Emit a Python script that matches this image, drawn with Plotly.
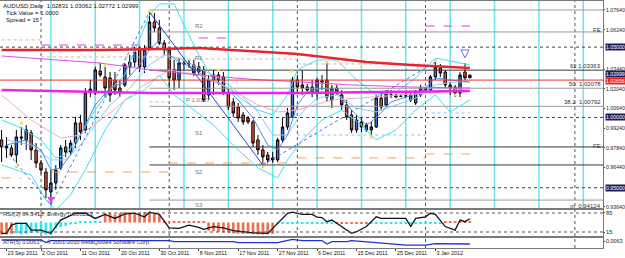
import plotly.graph_objects as go
from plotly.subplots import make_subplots

# ---------------- data (bar 0 = 22 Sep 2011 ... bar 95 = 11 Jan 2012) ----------------
opens = [0.9840, 0.9783, 0.9783, 0.9733, 0.9861, 0.9840, 0.9890, 0.9769, 0.9676, 0.9612,
         0.9470, 0.9534, 0.9641, 0.9790, 0.9754, 0.9818, 0.9961, 0.9911, 1.0181, 1.0174,
         1.0330, 1.0288, 1.0281, 1.0266, 1.0209, 1.0231, 1.0359, 1.0394, 1.0480, 1.0359,
         1.0494, 1.0679, 1.0636, 1.0529, 1.0480, 1.0338, 1.0266, 1.0387, 1.0380, 1.0373,
         1.0323, 1.0338, 1.0160, 1.0266, 1.0302, 1.0288, 1.0174, 1.0110, 1.0074, 1.0018,
         0.9996, 0.9968, 0.9840, 0.9769, 0.9733, 0.9698, 0.9698, 0.9840, 0.9932, 1.0003,
         1.0266, 1.0231, 1.0216, 1.0216, 1.0174, 1.0252, 1.0266, 1.0124, 1.0209, 1.0160,
         1.0089, 1.0018, 0.9911, 0.9968, 0.9911, 0.9911, 0.9932, 1.0138, 1.0089, 1.0160,
         1.0145, 1.0152, 1.0152, 1.0124, 1.0103, 1.0160, 1.0209, 1.0195, 1.0288, 1.0352,
         1.0323, 1.0231, 1.0216, 1.0174, 1.0323, 1.02831]
highs = [0.9911, 0.9860, 0.9804, 0.9911, 0.9932, 0.9946, 0.9911, 0.9818, 0.9698, 0.9641,
         0.9626, 0.9662, 0.9804, 0.9840, 0.9840, 1.0003, 1.0018, 1.0209, 1.0266, 1.0359,
         1.0387, 1.0359, 1.0323, 1.0323, 1.0266, 1.0387, 1.0444, 1.0501, 1.0501, 1.0515,
         1.0750, 1.0743, 1.0693, 1.0551, 1.0494, 1.0409, 1.0423, 1.0423, 1.0409, 1.0409,
         1.0394, 1.0366, 1.0302, 1.0338, 1.0323, 1.0323, 1.0209, 1.0138, 1.0103, 1.0039,
         1.0010, 0.9982, 0.9875, 0.9804, 0.9754, 0.9754, 0.9854, 0.9996, 1.0067, 1.0288,
         1.0302, 1.0338, 1.0238, 1.0266, 1.0281, 1.0302, 1.0387, 1.0231, 1.0231, 1.0195,
         1.0124, 1.0053, 1.0018, 0.9996, 0.9961, 0.9968, 1.0160, 1.0174, 1.0195, 1.0195,
         1.0167, 1.0167, 1.0174, 1.0181, 1.0195, 1.0231, 1.0216, 1.0302, 1.0394, 1.0380,
         1.0338, 1.0252, 1.0231, 1.0323, 1.0387, 1.03062]
lows = [0.9683, 0.9712, 0.9719, 0.9676, 0.9804, 0.9769, 0.9698, 0.9641, 0.9598, 0.9427,
        0.9377, 0.9484, 0.9626, 0.9719, 0.9733, 0.9783, 0.9840, 0.9890, 1.0145, 1.0160,
        1.0288, 1.0145, 1.0110, 1.0160, 1.0145, 1.0216, 1.0302, 1.0359, 1.0323, 1.0316,
        1.0480, 1.0608, 1.0515, 1.0444, 1.0209, 1.0195, 1.0209, 1.0338, 1.0352, 1.0295,
        1.0302, 1.0110, 1.0124, 1.0160, 1.0231, 1.0160, 1.0053, 1.0003, 0.9968, 0.9946,
        0.9954, 0.9790, 0.9733, 0.9662, 0.9676, 0.9676, 0.9683, 0.9818, 0.9911, 0.9996,
        1.0181, 1.0160, 1.0181, 1.0145, 1.0124, 1.0195, 1.0110, 1.0067, 1.0160, 1.0053,
        0.9982, 0.9890, 0.9890, 0.9897, 0.9897, 0.9875, 0.9925, 1.0053, 1.0074, 1.0138,
        1.0138, 1.0145, 1.0138, 1.0110, 1.0089, 1.0145, 1.0188, 1.0181, 1.0266, 1.0288,
        1.0209, 1.0160, 1.0145, 1.0145, 1.0266, 1.02772]
closes = [0.9790, 0.9797, 0.9733, 0.9861, 0.9854, 0.9911, 0.9769, 0.9676, 0.9626, 0.9484,
          0.9534, 0.9626, 0.9783, 0.9754, 0.9818, 0.9961, 0.9897, 1.0181, 1.0202, 1.0338,
          1.0302, 1.0209, 1.0160, 1.0195, 1.0174, 1.0373, 1.0394, 1.0465, 1.0359, 1.0480,
          1.0679, 1.0636, 1.0529, 1.0480, 1.0281, 1.0266, 1.0387, 1.0380, 1.0387, 1.0316,
          1.0359, 1.0124, 1.0266, 1.0302, 1.0266, 1.0174, 1.0074, 1.0032, 0.9996, 0.9968,
          0.9968, 0.9818, 0.9769, 0.9719, 0.9698, 0.9712, 0.9840, 0.9932, 1.0032, 1.0266,
          1.0216, 1.0209, 1.0195, 1.0174, 1.0266, 1.0259, 1.0145, 1.0209, 1.0181, 1.0089,
          1.0003, 0.9911, 0.9982, 0.9932, 0.9946, 0.9932, 1.0138, 1.0074, 1.0174, 1.0158,
          1.0160, 1.0150, 1.0154, 1.0160, 1.0181, 1.0209, 1.0195, 1.0288, 1.0359, 1.0316,
          1.0231, 1.0209, 1.0174, 1.0302, 1.0281, 1.02999]
bars = list(range(len(opens)))

tick_bars = [1, 8, 16, 24, 32, 40, 48, 56, 64, 72, 80, 88]
tick_labels = ["23 Sep 2011", "2 Oct 2011", "11 Oct 2011", "20 Oct 2011", "30 Oct 2011",
               "8 Nov 2011", "17 Nov 2011", "27 Nov 2011", "6 Dec 2011", "15 Dec 2011",
               "25 Dec 2011", "3 Jan 2012"]
# scale labels (1.04840 and 0.95040 are hidden by the dark line labels in the reference)
price_ticks = [1.0764, 1.0624, 1.0344, 1.0204, 1.0064, 0.9924, 0.9784, 0.9644, 0.9364]

# indicator lines (bar, value)
ma_red_bar = [0, 20, 32, 40, 50, 60, 74, 83, 95]
ma_red = [1.0480, 1.0480, 1.0487, 1.0494, 1.0473, 1.0451, 1.0394, 1.0373, 1.0352]
ma_mag_bar = [0, 30, 60, 81, 95]
ma_mag = [1.0195, 1.0174, 1.0174, 1.0181, 1.0188]
ma_mag_thin_bar = [0, 20, 30, 40, 50, 60, 71, 83, 95]
ma_mag_thin = [1.0437, 1.0387, 1.0338, 1.0302, 1.0273, 1.0252, 1.0231, 1.0216, 1.0209]
ma_pink_bar = [0, 6, 12, 16, 22, 28, 34, 40, 46, 52, 56, 60, 67, 73, 81, 89, 95]
ma_pink = [1.0160, 0.9982, 0.9854, 0.9875, 1.0032, 1.0209, 1.0338, 1.0302, 1.0209, 1.0089,
           1.0039, 1.0053, 1.0124, 1.0138, 1.0160, 1.0181, 1.0209]
ma_fast_bar = [1, 5, 8, 10, 12, 14, 16, 19, 22, 25, 28, 30, 32, 34, 36, 39, 42, 45, 48, 51,
               54, 56, 58, 60, 62, 65, 68, 71, 74, 76, 79, 82, 85, 88, 91, 95]
ma_fast = [0.9804, 0.9840, 0.9769, 0.9626, 0.9641, 0.9733, 0.9875, 1.0089, 1.0209, 1.0252,
           1.0373, 1.0480, 1.0551, 1.0444, 1.0394, 1.0352, 1.0266, 1.0231, 1.0124, 0.9996,
           0.9804, 0.9769, 0.9875, 1.0089, 1.0181, 1.0209, 1.0181, 1.0053, 0.9946, 0.9996,
           1.0110, 1.0145, 1.0174, 1.0281, 1.0266, 1.0252]
ma_slow_bar = [1, 6, 10, 13, 16, 19, 22, 26, 30, 33, 36, 40, 44, 48, 52, 55, 58, 61, 64, 68,
               72, 76, 80, 84, 88, 92, 95]
ma_slow = [0.9840, 0.9804, 0.9698, 0.9698, 0.9804, 0.9946, 1.0089, 1.0209, 1.0373, 1.0444,
           1.0423, 1.0352, 1.0281, 1.0181, 1.0039, 0.9875, 0.9875, 1.0039, 1.0138, 1.0160,
           1.0067, 1.0039, 1.0089, 1.0138, 1.0231, 1.0252, 1.0252]
band_up_bar = [0, 4, 8, 11, 13, 16, 19, 22, 25, 28, 30, 32, 35, 37, 40, 43, 46, 49, 52, 55,
               58, 60, 64, 68, 72, 76, 80, 84, 88, 92, 95]
band_up = [0.9982, 0.9925, 0.9840, 0.9712, 0.9733, 0.9875, 1.0053, 1.0195, 1.0302, 1.0551,
           1.0728, 1.0807, 1.0807, 1.0657, 1.0444, 1.0266, 1.0209, 1.0124, 1.0053, 1.0018,
           1.0160, 1.0338, 1.0409, 1.0409, 1.0266, 1.0160, 1.0181, 1.0281, 1.0423, 1.0394, 1.0373]
band_dn_bar = [0, 6, 9, 11, 14, 17, 21, 25, 29, 32, 35, 39, 43, 48, 52, 56, 58, 61, 65, 69,
               73, 76, 80, 84, 88, 91, 95]
band_dn = [0.9662, 0.9591, 0.9413, 0.9342, 0.9449, 0.9627, 0.9911, 1.0124, 1.0195, 1.0302,
           1.0160, 1.0053, 0.9946, 0.9769, 0.9641, 0.9570, 0.9698, 0.9840, 0.9982, 1.0053,
           0.9946, 0.9840, 0.9911, 1.0053, 1.0160, 1.0039, 1.0124]

zig_bar = [0, 10, 30, 53, 88]
zig_val = [0.9804, 0.9377, 1.0750, 0.9662, 1.0394]

fractal_bar = [3, 4, 21, 30, 44, 53, 59, 66, 75, 88, 92]
fractal_val = [0.9650, 0.9961, 1.0373, 1.0757, 1.0338, 0.9648, 1.0330, 1.0394, 0.9861, 1.0409, 1.0160]

cycle_bars = [10, 19, 28, 37, 46, 55, 64, 73, 82, 91, 100, 109, 118]
month_bars = [8, 34, 60, 86, 116.3]
round_levels = [1.05, 1.00, 0.95]
fib_start = 30
fib_levels = [1.0764, 1.0608, 1.03363, 1.02078, 1.00792, 0.9790, 0.9662, 0.94124]
fib_dark = [False, False, True, False, False, True, True, False]
red_line_level = 1.02656
bid = 1.02999

pivot_names = ["R2", "R1", "P 1.0137", "S1", "S2", "S3"]
pivot_vals = [1.0650, 1.0423, 1.0124, 0.9890, 0.9612, 0.9377]

orange_segs = [((0, 4), 0.9570), ((10, 34), 0.9612), ((34, 60), 0.9676), ((60, 86), 0.9712), ((86, 95), 0.9740)]
magenta_segs = [((8, 30), 1.0515), ((40, 46), 1.0565), ((86, 95), 1.0650)]
salmon_segs = [((0, 8), 1.0551), ((8, 34), 1.0430), ((34, 60), 1.0416), ((60, 86), 1.0380)]
lightblue_segs = [((30, 34), 1.0110), ((60, 86), 0.9875), ((86, 95), 1.0032)]

rsi_bar = [0, 1, 2, 3, 5, 6, 8, 10, 12, 15, 17, 19, 21, 23, 25, 27, 29, 30, 32, 34, 36, 38, 40,
           41, 43, 45, 47, 51, 54, 56, 58, 59, 61, 63, 64, 65, 66, 67, 71, 72, 74, 76, 77, 82,
           83, 84, 86, 87, 88, 90, 92, 93, 94, 95]
rsi = [10, 10, 40, 47, 47, 22, 22, 10, 59, 84, 84, 65, 80, 65, 82, 84, 70, 88, 80, 30, 28, 40,
       32, 25, 35, 30, 20, 12, 10, 47, 84, 88, 80, 80, 70, 68, 53, 59, 10, 16, 35, 71, 65, 65,
       35, 65, 71, 84, 80, 35, 22, 59, 53, 64]
N = None
energy_dn = [5, 6, 8, N, N, N, N, N, N, N, N, N, N, N, N, N, N, N, N, N, N,
             84, 86, 80, 85, 88, 87, 82, 86, 88, 90, 85, 80,
             54, 54, 54, 54, 54, 54, 54, 54, 54,
             20, 18, 15, 14, 12, 10, 9, 8, 8, 7, 6, 6, 7, 8,
             N, N, N, N, N, N, N, N, N, N, N, N,
             45, 45, 45, 45, 45, 45, 45,
             N, N, N, N, N, N, N, N, N, N, N, N, N, N, N,
             54, 54, 54, 54, 54, 54]
energy_up = [N, N, N, 10, 6, 8, 12, 15, 10, 5, 4, 28, 33, 38, 43, 47, 54, 54, 54, 54, 54,
             N, N, N, N, N, N, N, N, N, N, N, N, N, N, N, N, N, N, N, N, N, N, N, N, N, N, N,
             N, N, N, N, N, N, N, N,
             46, 46, 46, 46, 46, 46, 46, 46, 46, 46, 46, 46,
             N, N, N, N, N, N, N,
             46, 46, 46, 46, 46, 46, 46, 46, 46, 46, 46, 46, 46, 46, 46,
             N, N, N, N, N, N]
energy_base = 50
rsi_levels = [85, 15]

atr_bar = [0, 8, 9, 10, 34, 35, 47, 48, 56, 59, 61, 65, 66, 67, 70, 71, 76, 82, 86, 88, 95]
atr = [0.0068, 0.0068, 0.0059, 0.0066, 0.0066, 0.0062, 0.0062, 0.0059, 0.0059, 0.0070, 0.0066,
       0.0066, 0.0054, 0.0062, 0.0062, 0.0066, 0.0059, 0.0050, 0.0050, 0.0055, 0.0054]

X_RANGE = [-0.32, 122.0]
Y_MAIN = [0.9356, 1.0828]
Y_RSI = [0.3, 96]
Y_ATR = [0.0040, 0.0075]

FONT = "Liberation Sans"

fig = make_subplots(rows=3, cols=1, shared_xaxes=True, vertical_spacing=0)

def line(xs, ys, color, width=1, dash=None, row=1):
    fig.add_trace(go.Scatter(x=xs, y=ys, mode="lines", hoverinfo="skip",
                             line=dict(color=color, width=width, dash=dash)), row=row, col=1)

for (a, b), v in orange_segs:
    line([a, b], [v, v], "#f2a050", 1, "dash")
for (a, b), v in magenta_segs:
    line([a, b], [v, v], "#e040e0", 1, "dash")
for (a, b), v in salmon_segs:
    line([a, b], [v, v], "#f4a890", 1, "dot")
for (a, b), v in lightblue_segs:
    line([a, b], [v, v], "#8cc8f0", 1, "dot")

for lvl, dark in zip(fib_levels, fib_dark):
    line([fib_start, X_RANGE[1]], [lvl, lvl], "#3a3a3a" if dark else "#9a9a9a", 1)

fig.add_trace(go.Candlestick(x=bars, open=opens, high=highs, low=lows, close=closes,
                             increasing=dict(line=dict(color="#000000", width=1), fillcolor="#3f6fd8"),
                             decreasing=dict(line=dict(color="#000000", width=1), fillcolor="#e8503a"),
                             whiskerwidth=0, hoverinfo="skip"), row=1, col=1)

line(band_up_bar, band_up, "#3ee0f0", 1)
line(band_dn_bar, band_dn, "#3ee0f0", 1)
line(ma_slow_bar, ma_slow, "#90c8f2", 1)
line(ma_fast_bar, ma_fast, "#4a90e0", 1)
line(ma_pink_bar, ma_pink, "#f5a8cc", 1)
line(ma_mag_thin_bar, ma_mag_thin, "#e050e0", 1)
line(ma_red_bar, ma_red, "#e8242c", 2.5)
line(ma_mag_bar, ma_mag, "#ee22ee", 2.5)
line(zig_bar[:3], zig_val[:3], "#5070e0", 1, "dot")
line(zig_bar[2:4], zig_val[2:4], "#3040d0", 1)
line(zig_bar[3:], zig_val[3:], "#5070e0", 1, "dot")

fig.add_trace(go.Scatter(x=fractal_bar, y=fractal_val, mode="markers", hoverinfo="skip",
                         marker=dict(color="#f2e030", size=3)), row=1, col=1)
fig.add_trace(go.Scatter(x=[zig_bar[1]], y=[0.9385], mode="markers", hoverinfo="skip",
                         marker=dict(symbol="arrow-down", color="#ff30ff", size=7)), row=1, col=1)
fig.add_trace(go.Scatter(x=[94], y=[1.0423], mode="markers", hoverinfo="skip",
                         marker=dict(symbol="arrow-down-open", color="#7070f0", size=8)), row=1, col=1)

fig.add_trace(go.Bar(x=bars, y=[None if v is None else v - energy_base for v in energy_dn],
                     base=energy_base, marker=dict(color="#f07050", line=dict(width=0)),
                     width=0.55, hoverinfo="skip"), row=2, col=1)
fig.add_trace(go.Bar(x=bars, y=[None if v is None else v - energy_base for v in energy_up],
                     base=energy_base, marker=dict(color="#30e8f0", line=dict(width=0)),
                     width=0.55, hoverinfo="skip"), row=2, col=1)
line(rsi_bar, rsi, "#101020", 1.3, row=2)

line(atr_bar, atr, "#2030d8", 1.3, row=3)

shapes = []
for c in cycle_bars:
    shapes.append(dict(type="line", xref="x", yref="y domain", x0=c, x1=c, y0=0, y1=1,
                       line=dict(color="#6ae6ee", width=1.5), layer="below"))
for m in month_bars:
    shapes.append(dict(type="line", xref="x", yref="paper", x0=m, x1=m, y0=0, y1=1,
                       line=dict(color="#555555", width=1, dash="dot"), layer="below"))
for r in round_levels:
    shapes.append(dict(type="line", xref="x domain", yref="y", x0=0, x1=1, y0=r, y1=r,
                       line=dict(color="#444444", width=1, dash="dot"), layer="below"))
shapes.append(dict(type="line", xref="x domain", yref="y", x0=0, x1=1, y0=red_line_level,
                   y1=red_line_level, line=dict(color="#f03030", width=1)))
for lv in rsi_levels:
    shapes.append(dict(type="line", xref="x2 domain", yref="y2", x0=0, x1=1, y0=lv, y1=lv,
                       line=dict(color="#555555", width=1, dash="dot")))

ann = []
def txt(x, y, s, xref="paper", yref="paper", size=6, color="#111111", xanchor="left",
        bg=None, yshift=0):
    ann.append(dict(x=x, y=y, xref=xref, yref=yref, text=s, showarrow=False, xanchor=xanchor,
                    yanchor="middle", font=dict(family=FONT, size=size, color=color),
                    bgcolor=bg, borderpad=0, yshift=yshift))

txt(0.004, 0.976, "AUDUSD,Daily  1.02831 1.03062 1.02772 1.02999")
txt(0.008, 0.946, "Tick Value = 1.0000")
txt(0.008, 0.918, "Spread = 15")
txt(0.004, 0.137, "RSI(3) 64.3418  Energy 0.000253", color="#333333")
txt(0.004, 0.024, "ATR(5) 0.0063", color="#333333", size=5.6)
txt(0.076, 0.024, "© 2001-2010 MetaQuotes Software Corp.", color="#333333", size=5.6)

for name, v in zip(pivot_names, pivot_vals):
    txt(40, v, name, xref="x", yref="y", color="#777777", xanchor="center")

txt(0.999, 1.0366, "62 1.03363", yref="y", xanchor="right", color="#333333")
txt(0.999, 1.0236, "50  1.02078", yref="y", xanchor="right", color="#333333")
txt(0.999, 1.0107, "38.2  1.00792", yref="y", xanchor="right", color="#333333")
txt(0.999, 0.9372, "m  0.94124", yref="y", xanchor="right", color="#333333")
txt(0.999, 1.0620, "FE", yref="y", xanchor="right", color="#333333")
txt(0.999, 0.9795, "FE", yref="y", xanchor="right", color="#333333")

for v, s, bg, ys in [(1.05, "1.05000", "#1c1c5c", 0), (bid, "1.02999", "#1c1c5c", 1),
                     (red_line_level, "1.02656", "#f02020", -1), (1.00, "1.00000", "#1c1c5c", 0),
                     (0.95, "0.95000", "#1c1c5c", 0)]:
    txt(1.003, v, s, yref="y", size=5.2, color="#ffffff", bg=bg, yshift=ys)

axis_common = dict(showgrid=False, zeroline=False, showline=True, mirror=True,
                   linecolor="#7a7a7a", linewidth=1, automargin=False)

fig.update_layout(
    width=625, height=258, margin=dict(l=0, r=22, t=0, b=10),
    paper_bgcolor="#ffffff", plot_bgcolor="#ffffff", showlegend=False,
    font=dict(family=FONT, size=6.5, color="#111111"),
    barmode="overlay", shapes=shapes, annotations=ann,
    xaxis=dict(range=X_RANGE, showticklabels=False, rangeslider=dict(visible=False), **axis_common),
    xaxis2=dict(range=X_RANGE, showticklabels=False, **axis_common),
    xaxis3=dict(range=X_RANGE, tickvals=tick_bars, ticktext=tick_labels, ticks="outside",
                ticklen=2, tickcolor="#444444", ticklabelposition="outside right", tickangle=0,
                tickfont=dict(size=5.4, color="#111111"), **axis_common),
    yaxis=dict(domain=[0.16129, 0.99597], range=Y_MAIN, side="right", tickvals=price_ticks,
               ticktext=[f"{v:.5f}" for v in price_ticks], ticks="outside", ticklen=1,
               tickcolor="#444444", tickfont=dict(size=5.2, color="#222222"), **axis_common),
    yaxis2=dict(domain=[0.04839, 0.15323], range=Y_RSI, side="right", tickvals=rsi_levels,
                ticktext=[str(v) for v in rsi_levels], ticks="outside", ticklen=1,
                tickfont=dict(size=5.6, color="#222222"), **axis_common),
    yaxis3=dict(domain=[0, 0.04032], range=Y_ATR, side="right", tickvals=[0.0063],
                ticktext=["0.0063"], ticks="outside", ticklen=1,
                tickfont=dict(size=5.4, color="#222222"), **axis_common),
)

fig.write_html("out.html")
